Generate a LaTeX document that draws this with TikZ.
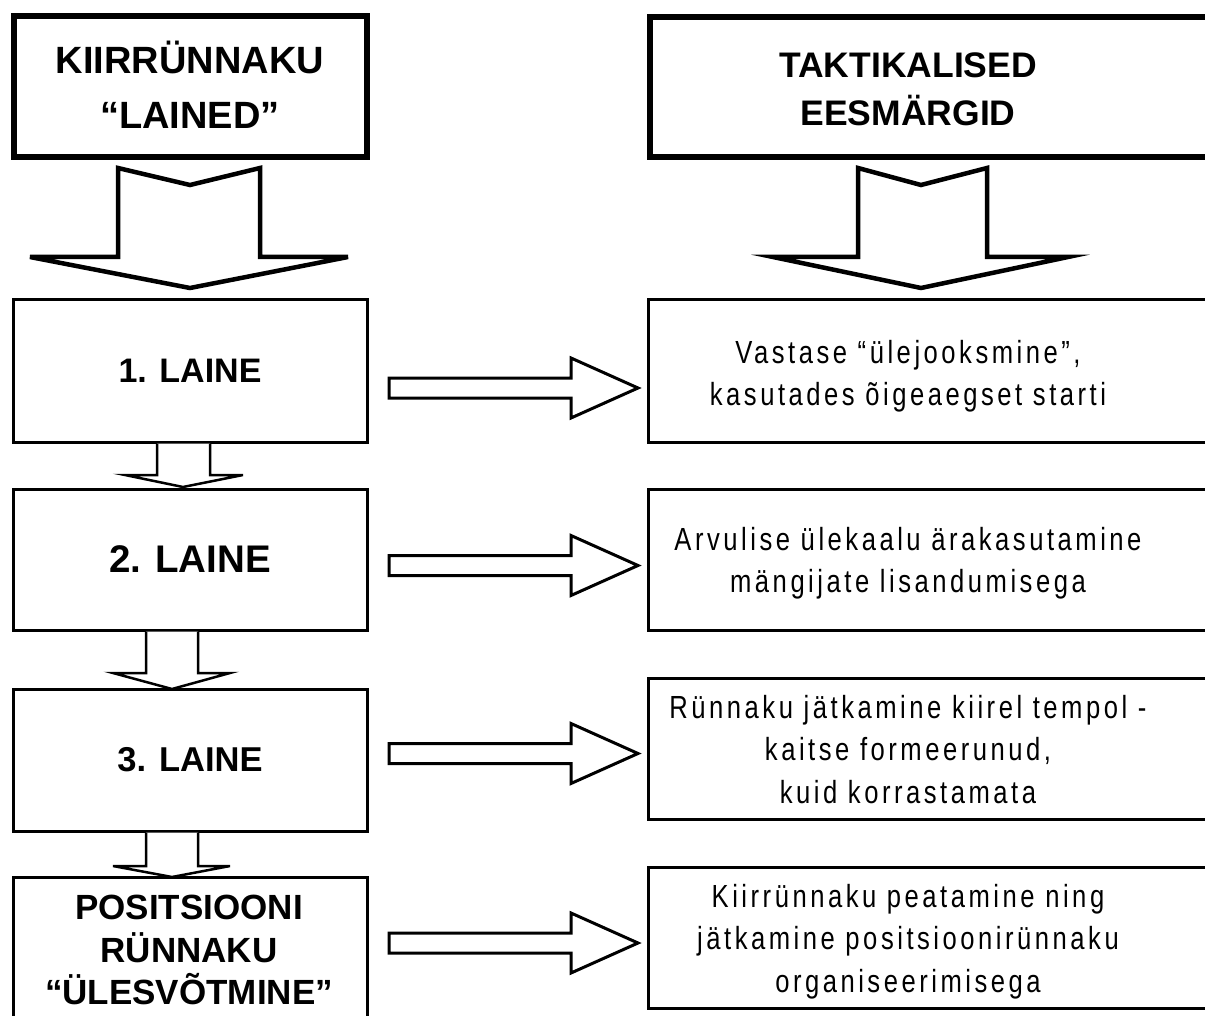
\documentclass[tikz,border=0pt]{standalone}
\usepackage{fontspec}
\setmainfont{Liberation Sans}
\newfontfamily\narrowfont[FakeStretch=0.8,LetterSpace=11]{Liberation Sans}
\begin{document}
\begin{tikzpicture}[x=1pt,y=-1pt,
  headbox/.style={draw,line width=6pt,inner sep=0pt},
  lbox/.style={draw,line width=3pt,minimum width=354pt,inner sep=0pt,align=center,font=\bfseries},
  rbox/.style={draw,line width=3pt,minimum width=570pt,inner sep=0pt},
  rtext/.style={align=center,inner sep=0pt,font=\narrowfont\fontsize{32}{42.5}\selectfont},
  bigarrow/.style={draw,line width=4.5pt,fill=white,line join=miter},
  smallarrow/.style={draw,line width=2.5pt,fill=white,line join=miter},
  harrow/.style={draw,line width=3pt,fill=white,line join=miter}]
\useasboundingbox (0,0) rectangle (1205,1016);
\clip (0,0) rectangle (1205,1016);
\fill[white] (0,0) rectangle (1205,1016);

% heading boxes
\node[headbox,minimum width=353pt,minimum height=141pt] (hl) at (190,87) {};
\node[inner sep=0pt,align=center,font=\bfseries\fontsize{38}{55}\selectfont] (hlt) at (190,85) {KIIRRÜNNAKU\\“LAINED”};
\node[headbox,minimum width=570pt,minimum height=140pt] (hr) at (934.75,87.5) {};
\node[inner sep=0pt,align=center,font=\bfseries\fontsize{35.5}{48}\selectfont] (hrt) at (908,89) {TAKTIKALISED\\EESMÄRGID};

% big arrows
\path[bigarrow] (118,168) -- (190,185) -- (260,168) -- (260,257) -- (348,257) -- (190,288) -- (30,257) -- (118,257) -- cycle;
\path[bigarrow] (858,168) -- (921,185) -- (987,168) -- (987,257) -- (1068,257) -- (921,288) -- (773,257) -- (858,257) -- cycle;

% left boxes
\node[lbox,minimum height=142pt,font=\bfseries\fontsize{34}{40}\selectfont] (l1) at (190,371) {1. LAINE};
\node[lbox,minimum height=141pt,font=\bfseries\fontsize{38.5}{44}\selectfont] (l2) at (190,559.5) {2. LAINE};
\node[lbox,minimum height=142pt,font=\bfseries\fontsize{34.5}{40}\selectfont] (l3) at (190,760) {3. LAINE};
\node[lbox,minimum height=146pt] (l4) at (190,950) {};
\node[inner sep=0pt,align=center,font=\bfseries\fontsize{35}{42.5}\selectfont] (l4t) at (189,950) {POSITSIOONI\\RÜNNAKU\\“ÜLESVÕTMINE”};

% small vertical arrows
\path[smallarrow] (l1.south -| 157,0) -- (157,475) -- (125,475) -- (183,487) -- (243,475) -- (210,475) -- (l1.south -| 210,0);
\path[smallarrow] (l2.south -| 146,0) -- (146,673) -- (113,673) -- (172,689) -- (230,673) -- (198,673) -- (l2.south -| 198,0);
\path[smallarrow] (l3.south -| 146,0) -- (146,866) -- (113,866) -- (172,877) -- (230,866) -- (198,866) -- (l3.south -| 198,0);

% right boxes
\node[rbox,minimum height=142pt] (r1) at (933,371) {};
\node[rbox,minimum height=141pt] (r2) at (933,559.5) {};
\node[rbox,minimum height=141pt] (r3) at (933,748.5) {};
\node[rbox,minimum height=141pt] (r4) at (933,937.5) {};
\node[rtext] (r1t) at (908,376) {Vastase “ülejooksmine”,\\kasutades õigeaegset starti};
\node[rtext] (r2t) at (908,563) {Arvulise ülekaalu ärakasutamine\\mängijate lisandumisega};
\node[rtext] (r3t) at (908,749.5) {Rünnaku jätkamine kiirel tempol -\\kaitse formeerunud,\\kuid korrastamata};
\node[rtext] (r4t) at (908,941.5) {Kiirrünnaku peatamine ning\\jätkamine positsioonirünnaku\\organiseerimisega};

% horizontal arrows
\foreach \c/\n in {388/a1,565.5/a2,753.5/a3,943/a4}{
  \path[harrow] (389,\c-10) -- (571,\c-10) -- (571,\c-30) -- (638,\c) -- (571,\c+30) -- (571,\c+10) -- (389,\c+10) -- cycle;
}
\end{tikzpicture}
\end{document}
